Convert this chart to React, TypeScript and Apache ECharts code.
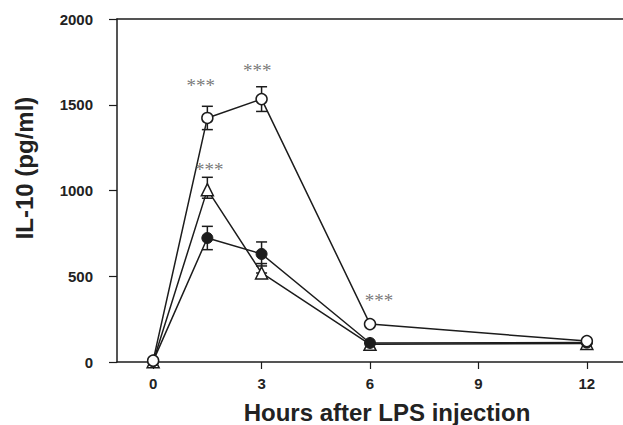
import React, { useEffect, useRef } from "react";
import * as echarts from "echarts";

const hours = [0, 1.5, 3, 6, 12];
const tickHours = [0, 3, 6, 9, 12];
const yTicks = [0, 500, 1000, 1500, 2000];

const openCircle = [8, 1423, 1533, 221, 122];
const openCircleErr = [0, 68, 72, 0, 0];
const triangle = [2, 1005, 519, 103, 108];
const triangleErrUp = [0, 72, 55, 0, 0];
const triangleErrDown = [0, 50, 0, 0, 0];
const filledCircle = [5, 723, 630, 111, 113];
const filledCircleErr = [0, 68, 70, 0, 0];

const starPoints: [number, number][] = [
  [1.32, 1615],
  [2.88, 1700],
  [1.55, 1125],
  [6.25, 358],
];

const INK = "#1c1c1c";

export default function App() {
  const ref = useRef<HTMLDivElement>(null);
  useEffect(() => {
    if (!ref.current) return;
    const chart = echarts.init(ref.current, null, { renderer: "svg" });

    const errData: number[][] = [];
    hours.forEach((h, i) => {
      if (openCircleErr[i] > 0) errData.push([h, openCircle[i] - openCircleErr[i], openCircle[i] + openCircleErr[i]]);
      if (triangleErrUp[i] > 0) errData.push([h, triangle[i] - triangleErrDown[i], triangle[i] + triangleErrUp[i]]);
      if (filledCircleErr[i] > 0) errData.push([h, filledCircle[i] - filledCircleErr[i], filledCircle[i] + filledCircleErr[i]]);
    });

    const pts = (vals: number[]) => hours.map((h, i) => [h, vals[i]]);

    const lineBase = {
      type: "line" as const,
      z: 3,
      lineStyle: { color: INK, width: 1.5 },
      itemStyle: { color: INK, borderColor: INK, borderWidth: 1.5 },
      symbolSize: 11,
      showAllSymbol: true,
    };

    chart.setOption({
      animation: false,
      grid: { left: 117, right: 0, top: 19, bottom: 63 },
      xAxis: [
        {
          type: "value",
          min: -1,
          max: 13,
          axisLine: { show: true, onZero: false, lineStyle: { color: INK, width: 1.5 } },
          axisTick: { show: true, customValues: tickHours, length: 7, lineStyle: { color: INK, width: 1.2 } },
          axisLabel: {
            customValues: tickHours,
            margin: 14,
            fontFamily: "Liberation Sans",
            fontWeight: "bold",
            fontSize: 15,
            color: "#222",
          },
          splitLine: { show: false },
        },
        {
          type: "value",
          position: "top",
          min: -1,
          max: 13,
          axisLine: { show: true, onZero: false, lineStyle: { color: INK, width: 1.5 } },
          axisTick: { show: false },
          axisLabel: { show: false },
          splitLine: { show: false },
        },
      ],
      yAxis: {
        type: "value",
        min: 0,
        max: 2000,
        interval: 500,
        axisLine: { show: true, onZero: false, lineStyle: { color: INK, width: 1.5 } },
        axisTick: { show: true, length: 8, lineStyle: { color: INK, width: 1.2 } },
        axisLabel: {
          margin: 24,
          fontFamily: "Liberation Sans",
          fontWeight: "bold",
          fontSize: 15,
          color: "#222",
          formatter: (v: number) => (yTicks.includes(v) ? String(v) : ""),
        },
        splitLine: { show: false },
      },
      graphic: [
        {
          type: "text",
          x: 387,
          y: 412,
          style: {
            text: "Hours after LPS injection",
            fontFamily: "Liberation Sans",
            fontWeight: "bold",
            fontSize: 24,
            fill: "#222",
            align: "center",
            verticalAlign: "middle",
          },
        },
        {
          type: "text",
          x: 24,
          y: 168,
          rotation: Math.PI / 2,
          style: {
            text: "IL-10 (pg/ml)",
            fontFamily: "Liberation Sans",
            fontWeight: "bold",
            fontSize: 24,
            fill: "#222",
            align: "center",
            verticalAlign: "middle",
          },
        },
      ],
      series: [
        {
          type: "custom",
          z: 2,
          data: errData,
          renderItem: (params: any, api: any) => {
            const x = api.value(0);
            const lo = api.coord([x, api.value(1)]);
            const hi = api.coord([x, api.value(2)]);
            const hw = 5.5;
            const style = { stroke: INK, lineWidth: 1.5 };
            return {
              type: "group",
              children: [
                { type: "line", shape: { x1: lo[0], y1: lo[1], x2: hi[0], y2: hi[1] }, style },
                { type: "line", shape: { x1: hi[0] - hw, y1: hi[1], x2: hi[0] + hw, y2: hi[1] }, style },
                { type: "line", shape: { x1: lo[0] - hw, y1: lo[1], x2: lo[0] + hw, y2: lo[1] }, style },
              ],
            };
          },
        },
        {
          ...lineBase,
          name: "triangle",
          data: pts(triangle),
          symbol: "triangle",
          symbolSize: 12,
          itemStyle: { color: "#fff", borderColor: INK, borderWidth: 1.5 },
        },
        {
          ...lineBase,
          name: "filled",
          data: pts(filledCircle),
          symbol: "circle",
          itemStyle: { color: INK, borderColor: INK, borderWidth: 1 },
        },
        {
          ...lineBase,
          name: "open",
          data: pts(openCircle),
          symbol: "circle",
          itemStyle: { color: "#fff", borderColor: INK, borderWidth: 1.5 },
        },
        {
          type: "scatter",
          z: 4,
          data: starPoints,
          symbolSize: 0,
          itemStyle: { color: "#666" },
          label: {
            show: true,
            position: "inside",
            formatter: "***",
            fontFamily: "Liberation Serif",
            fontSize: 19,
            color: "#555",
            textBorderWidth: 0,
            textBorderColor: "transparent",
          },
        },
      ],
    });
    return () => chart.dispose();
  }, []);
  return <div ref={ref} style={{ width: 623, height: 425, position: "absolute", left: 0, top: 0 }} />;
}
